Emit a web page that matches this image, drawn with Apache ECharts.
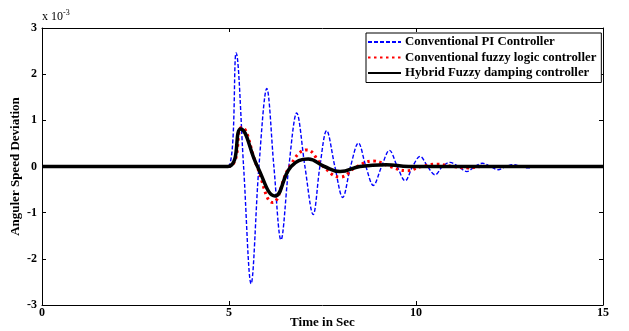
<!DOCTYPE html>
<html><head><meta charset="utf-8">
<script src="https://cdn.jsdelivr.net/npm/echarts@6/dist/echarts.min.js"></script>
<style>html,body{margin:0;padding:0;background:#fff}#c{width:629px;height:331px}</style>
</head><body><div id="c"></div>
<script>
// Time (s) and angular speed deviation (x 1e-3) for each controller
var piT = [0, 4.97, 5.19, 5.39, 5.59, 5.80, 6.01, 6.20, 6.39, 6.60, 6.81, 7.03, 7.25, 7.43, 7.61, 7.83, 8.04, 8.25, 8.46, 8.66, 8.86, 9.08, 9.29, 9.50, 9.71, 9.91, 10.11, 10.31, 10.51, 10.71, 10.91, 11.13, 11.36, 11.57, 11.78, 11.99, 12.20, 12.40, 12.60, 12.80, 13.00, 13.20, 15];
var piV = [0, 0, 2.46, 0, -2.54, 0, 1.69, 0, -1.59, 0, 1.16, 0, -1.04, 0, 0.78, 0, -0.67, 0, 0.51, 0, -0.41, 0, 0.35, 0, -0.31, 0, 0.22, 0, -0.18, 0, 0.09, 0, -0.11, 0, 0.07, 0, -0.07, 0, 0.04, 0, -0.03, 0, 0];
var flcT = [0, 4.98, 5.34, 5.75, 6.17, 6.62, 7.08, 7.52, 7.97, 8.42, 8.86, 9.30, 9.75, 10.15, 10.55, 11.00, 11.40, 11.80, 15];
var flcV = [0, 0, 0.85, 0, -0.78, 0, 0.36, 0, -0.23, 0, 0.12, 0, -0.09, 0, 0.05, 0, -0.03, 0, 0];
var hybT = [0, 4.97, 5.31, 5.76, 6.23, 6.66, 7.12, 7.55, 7.97, 8.50, 9.20, 9.80, 15];
var hybV = [0, 0, 0.81, 0, -0.64, 0, 0.16, 0, -0.11, 0, 0.04, 0, 0];
var names = ['Conventional PI Controller', 'Conventional fuzzy logic controller', 'Hybrid Fuzzy damping controller'];
var xTicks = [0, 5, 10, 15];
var yTicks = [-3, -2, -1, 0, 1, 2, 3];

function pairs(t, v) { return t.map(function (x, i) { return [x, v[i]]; }); }
var F = 'Liberation Serif';
var chart = echarts.init(document.getElementById('c'));
chart.setOption({
  animation: false,
  backgroundColor: '#fff',
  textStyle: { fontFamily: F },
  grid: { left: 42, right: 26, top: 28, bottom: 26, containLabel: false, outerBoundsMode: 'none' },
  legend: {
    orient: 'vertical', left: 366, top: 33,
    itemWidth: 33, itemHeight: 10, itemGap: 2.5,
    padding: [2.5, 5, 3, 1],
    borderColor: '#000', borderWidth: 1, backgroundColor: '#fff',
    itemStyle: { opacity: 0 },
    textStyle: { fontFamily: F, fontWeight: 'bold', fontSize: 12.8, color: '#000', padding: [0, 0, 0, -1] },
    data: names
  },
  xAxis: [{
    type: 'value', min: 0, max: 15, interval: 5,
    name: 'Time in Sec', nameLocation: 'middle', nameGap: 11, nameMoveOverlap: false,
    nameTextStyle: { fontFamily: F, fontWeight: 'bold', fontSize: 13, color: '#000', verticalAlign: 'top' },
    axisLine: { onZero: false, lineStyle: { color: '#000' } },
    axisTick: { inside: true, length: 4, lineStyle: { color: '#000' } },
    axisLabel: { fontFamily: F, fontWeight: 'bold', fontSize: 12, color: '#000', margin: 2,
      formatter: function (v) { return xTicks.indexOf(v) >= 0 ? String(v) : ''; } },
    splitLine: { show: false }
  }, {
    type: 'value', position: 'top', min: 0, max: 15, interval: 5,
    axisLine: { onZero: false, lineStyle: { color: '#000' } },
    axisTick: { inside: true, length: 4, lineStyle: { color: '#000' } },
    axisLabel: { show: false }, splitLine: { show: false }
  }],
  yAxis: [{
    type: 'value', min: -3, max: 3, interval: 1,
    name: 'Anguler Speed Deviation', nameLocation: 'middle', nameGap: 20, nameRotate: 90, nameMoveOverlap: false,
    nameTextStyle: { fontFamily: F, fontWeight: 'bold', fontSize: 13, color: '#000' },
    axisLine: { onZero: false, lineStyle: { color: '#000' } },
    axisTick: { inside: true, length: 4, lineStyle: { color: '#000' } },
    axisLabel: { fontFamily: F, fontWeight: 'bold', fontSize: 12, color: '#000', margin: 5,
      formatter: function (v) { return yTicks.indexOf(v) >= 0 ? String(v) : ''; } },
    splitLine: { show: false }
  }, {
    type: 'value', position: 'right', min: -3, max: 3, interval: 1,
    axisLine: { onZero: false, lineStyle: { color: '#000' } },
    axisTick: { inside: true, length: 4, lineStyle: { color: '#000' } },
    axisLabel: { show: false }, splitLine: { show: false }
  }],
  graphic: [{
    type: 'text', left: 42, top: 9,
    style: {
      text: '{a|x 10}{b|-3}',
      rich: {
        a: { fontFamily: F, fontSize: 12, fill: '#000', verticalAlign: 'bottom' },
        b: { fontFamily: F, fontSize: 8, fill: '#000', verticalAlign: 'top', padding: [0, 0, 6, 0] }
      }
    }
  }],
  series: [{
    name: names[0], type: 'line', symbol: 'none', smooth: 0.35,
    data: pairs(piT, piV),
    lineStyle: { color: '#0000ff', width: 1.4, type: [4, 2] }, itemStyle: { color: '#0000ff' }
  }, {
    name: names[1], type: 'line', symbol: 'none', smooth: 0.45,
    data: pairs(flcT, flcV),
    lineStyle: { color: '#ff0000', width: 3, type: [2.5, 3.5] }, itemStyle: { color: '#ff0000' }
  }, {
    name: names[2], type: 'line', symbol: 'none', smooth: 0.45,
    data: pairs(hybT, hybV),
    lineStyle: { color: '#000', width: 3.5 }, itemStyle: { color: '#000' }
  }]
});
</script></body></html>
